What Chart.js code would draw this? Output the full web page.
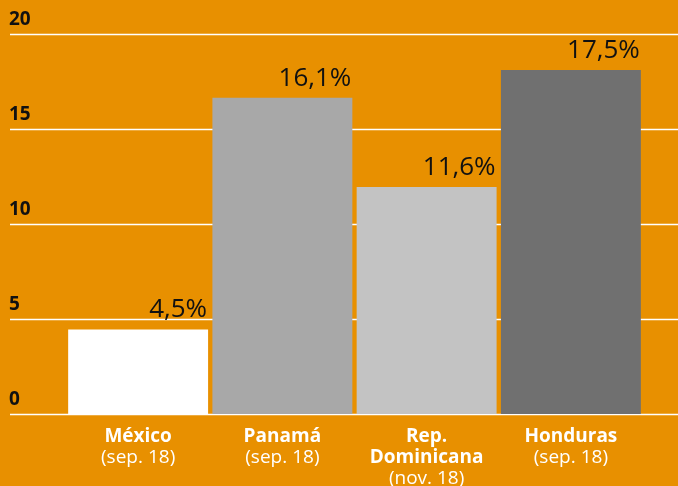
<!DOCTYPE html>
<html>
<head>
<meta charset="utf-8">
<script src="https://cdn.jsdelivr.net/npm/chart.js@4"></script>
<style>
  html, body { margin: 0; padding: 0; background: #E89000; }
  #wrap { width: 678px; height: 486px; }
</style>
</head>
<body>
<div id="wrap"><canvas id="chart" width="678" height="486"></canvas></div>
<script>
// Chart data
const countries = ['México', 'Panamá', 'Rep.\nDominicana', 'Honduras'];
const periods = ['(sep. 18)', '(sep. 18)', '(nov. 18)', '(sep. 18)'];
const barValues = [4.45, 16.65, 11.95, 18.1];
const valueLabels = ['4,5%', '16,1%', '11,6%', '17,5%'];
const barColors = ['#FFFFFF', '#A8A8A8', '#C3C3C3', '#707070'];
const yTicks = [0, 5, 10, 15, 20];

const FONT = '"Open Sans", sans-serif';

// Gridlines and y labels run across the whole width
const gridPlugin = {
    id: 'grid',
    beforeDatasetsDraw(chart) {
        const ctx = chart.ctx;
        const y = chart.scales.y;
        ctx.save();
        ctx.strokeStyle = '#FFFFFF';
        ctx.lineWidth = 1.5;
        ctx.fillStyle = '#111111';
        ctx.font = 'bold 19px ' + FONT;
        ctx.textAlign = 'left';
        ctx.textBaseline = 'alphabetic';
        yTicks.forEach(t => {
            const py = Math.round(y.getPixelForValue(t)) + 0.5;
            ctx.beginPath();
            ctx.moveTo(10, py);
            ctx.lineTo(chart.width, py);
            ctx.stroke();
            ctx.fillText(String(t), 9, py - 10);
        });
        ctx.restore();
    },
    afterDatasetsDraw(chart) {
        const ctx = chart.ctx;
        const meta = chart.getDatasetMeta(0);
        const x = chart.scales.x;
        ctx.save();
        // value labels above bars
        ctx.fillStyle = '#111111';
        ctx.font = '26px ' + FONT;
        ctx.textAlign = 'right';
        meta.data.forEach((bar, i) => {
            ctx.fillText(valueLabels[i], bar.x + bar.width / 2 - 1, bar.y - 12);
        });
        // category labels
        ctx.fillStyle = '#FFFFFF';
        ctx.textAlign = 'center';
        countries.forEach((c, i) => {
            const px = x.getPixelForValue(i);
            const lines = c.split('\n');
            let py = 442;
            ctx.font = 'bold 19px ' + FONT;
            lines.forEach(l => {
                ctx.fillText(l, px, py);
                py += 21;
            });
            ctx.font = '19px ' + FONT;
            ctx.fillText(periods[i], px, py);
        });
        ctx.restore();
    }
};

new Chart(document.getElementById('chart'), {
    type: 'bar',
    data: {
        labels: countries,
        datasets: [{
            data: barValues,
            backgroundColor: barColors,
            borderWidth: 0,
            barPercentage: 0.97,
            categoryPercentage: 1.0
        }]
    },
    options: {
        responsive: false,
        animation: false,
        layout: { padding: { left: 66, right: 35, top: 34, bottom: 72 } },
        plugins: { legend: { display: false }, tooltip: { enabled: false } },
        scales: {
            x: { display: false },
            y: { display: false, min: 0, max: 20 }
        }
    },
    plugins: [gridPlugin]
});
</script>
</body>
</html>
